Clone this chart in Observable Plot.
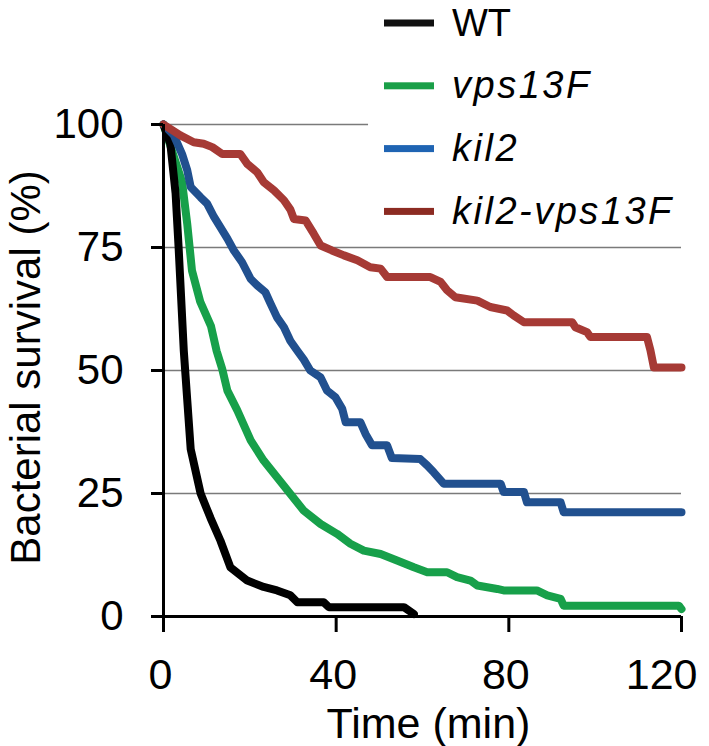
<!DOCTYPE html>
<html><head><meta charset="utf-8">
<script src="https://cdn.jsdelivr.net/npm/d3@7"></script>
<script src="https://cdn.jsdelivr.net/npm/@observablehq/plot@0.6"></script>
<style>html,body{margin:0;padding:0;background:#fff;} #chart{width:709px;height:746px;position:relative;}</style>
</head><body><div id="chart"></div>
<script>
// ---- data ----
const seriesNames = ["WT", "vps13F", "kil2", "kil2-vps13F"];
const seriesItalic = [false, true, true, true];
const lineColors = ["#000000", "#17a04a", "#21508f", "#a63a35"];
const legendColors = ["#111111", "#1a9f48", "#1f64b3", "#8c2b22"];

const wtTime = [0, 1.6, 2.8, 3.5, 4.7, 5.5, 6.3, 8.6, 10.9, 13.2, 15.5, 19.4, 23.2, 26.3, 29.4, 31, 37.1, 38.3, 55.7, 58];
const wtSurvival = [100, 96, 86, 75, 54, 44, 34, 25, 20, 15.4, 10, 7.3, 6, 5.3, 4.3, 2.9, 2.9, 1.9, 1.9, 0.5];

const vpsTime = [0, 4.3, 5.5, 6.6, 8.5, 11, 12.3, 13.6, 14.8, 17.1, 20.2, 23.2, 26.3, 29.4, 32.5, 36.4, 40.2, 43.3, 46.4, 50.3, 54.1, 58, 61.1, 65.7, 68, 71.1, 72.7, 77.3, 78.8, 86.5, 88.9, 92, 92.7, 119.4, 120];
const vpsSurvival = [100, 88.3, 79.8, 70.3, 64, 59, 54, 50.3, 45.9, 41.9, 35.8, 31.7, 28.3, 24.9, 21.5, 18.8, 16.8, 14.8, 13.4, 12.7, 11.4, 10, 9, 9, 8, 7.3, 6.3, 5.6, 5.3, 5.3, 4.3, 3.6, 2.2, 2.2, 1.5];

const kilTime = [0, 2.4, 4.3, 5.5, 6.3, 8.6, 10.1, 11.7, 13.2, 14.8, 16.3, 18.2, 20.2, 21.7, 23.6, 24.8, 26.3, 27.9, 29.4, 31, 32.5, 34, 36.4, 37.9, 39.8, 41.4, 42.2, 45.6, 46.8, 48.3, 51.8, 52.9, 59.5, 61.1, 62.6, 64.9, 78.1, 78.8, 83.5, 84.2, 92, 92.7, 120];
const kilSurvival = [100, 97.8, 94, 90.7, 87.3, 85.2, 83.9, 81.2, 79.1, 76.8, 74.4, 72, 68.6, 67.3, 65.9, 63.6, 60.8, 58.8, 56, 54, 52.2, 50, 48.6, 45.9, 44.6, 42.2, 39.5, 39.5, 37.1, 34.8, 34.8, 32.2, 32, 30.7, 29.3, 27, 27, 25.3, 25.3, 23.2, 23.2, 21.2, 21.2];

const dblTime = [0, 3.9, 7, 9.3, 11.3, 13.6, 17.8, 19.4, 21.7, 23.2, 25.6, 27.9, 29.4, 30.2, 32.9, 34.8, 36.4, 39, 41.8, 44.9, 47.9, 50.3, 51.8, 61.8, 64.2, 65.7, 67.6, 72.7, 75.7, 79.6, 81.1, 83.5, 94.7, 95.4, 98.1, 98.9, 112, 112.8, 113.6, 120];
const dblSurvival = [100, 97.8, 96.4, 96.1, 95.4, 94, 94, 92, 90.3, 88.3, 86.6, 84.6, 82.7, 80.8, 80.5, 77.8, 75.4, 74.4, 73.4, 72.4, 71, 70.7, 69, 69, 68, 66.3, 64.9, 64.2, 62.9, 62.2, 61.2, 59.8, 59.8, 58.8, 57.8, 56.8, 56.8, 54.1, 50.6, 50.6];

const xTicks = [0, 40, 80, 120];
const yTicks = [0, 25, 50, 75, 100];
const gridValues = [25, 50, 75];
const topGrid = 100;
const topGridEnd = 47.5; // minutes: top gridline stops short under the legend
const xLabel = "Time (min)";
const yLabel = "Bacterial survival (%)";

// ---- build table ----
const allTimes = [wtTime, vpsTime, kilTime, dblTime];
const allVals = [wtSurvival, vpsSurvival, kilSurvival, dblSurvival];
const rows = seriesNames.map((name, i) => allTimes[i].map((t, j) => ({series: name, t, s: allVals[i][j]})));
const drawOrder = [1, 0, 2, 3];

const font = "'Liberation Sans', Arial, Helvetica, sans-serif";

const chart = Plot.plot({
  width: 709, height: 746,
  marginLeft: 163, marginRight: 28, marginTop: 124, marginBottom: 130,
  x: {domain: [0, 120]},
  y: {domain: [0, 100]},
  style: {fontFamily: font, background: "white", overflow: "visible", color: "black"},
  marks: [
    Plot.ruleY(gridValues, {stroke: "#7a7a7a", strokeWidth: 1.6}),
    Plot.ruleY([topGrid], {x1: 0, x2: topGridEnd, stroke: "#7a7a7a", strokeWidth: 1.6}),
    ...drawOrder.map(i => Plot.line(rows[i], {
      x: "t", y: "s", stroke: lineColors[i], strokeWidth: 8,
      strokeLinejoin: "round", strokeLinecap: "round"
    })),
    Plot.ruleX([0], {y1: 0, y2: 100, stroke: "black", strokeWidth: 3}),
    Plot.ruleY([0], {x1: 0, x2: 120, stroke: "black", strokeWidth: 3}),
    Plot.axisY({ticks: yTicks, tickSize: 12, strokeWidth: 3, stroke: "black", tickFormat: () => "", label: null}),
    Plot.axisX({ticks: xTicks, tickSize: 16, strokeWidth: 3, stroke: "black", tickFormat: () => "", label: null}),
    Plot.text(yTicks, {y: d => d, text: d => String(d), frameAnchor: "left", textAnchor: "end", lineAnchor: "middle", dx: -40, fontSize: 42, fill: "black"}),
    Plot.text(xTicks.slice(0, -1), {x: d => d, text: d => String(d), frameAnchor: "bottom", textAnchor: "middle", lineAnchor: "bottom", dy: 72.6, dx: -3, fontSize: 43, fill: "black"}),
    Plot.text(xTicks.slice(-1), {x: d => d, text: d => String(d), frameAnchor: "bottom", lineAnchor: "bottom", textAnchor: "end", dy: 72.6, dx: 16, fontSize: 43, fill: "black"}),
    Plot.text([xLabel], {text: d => d, frameAnchor: "bottom", textAnchor: "middle", lineAnchor: "bottom", dy: 121, dx: 6, fontSize: 43, fill: "black"}),
    Plot.text([yLabel], {text: d => d, frameAnchor: "left", textAnchor: "middle", lineAnchor: "bottom", rotate: -90, dx: -124, dy: -3, fontSize: 42, fill: "black"})
  ]
});

document.getElementById("chart").appendChild(chart);

// ---- legend (drawn on top of the plot's svg) ----
const svg = d3.select(chart);
const lg = svg.append("g").attr("class", "legend");
seriesNames.forEach((name, i) => {
  const cy = 23 + i * 62.8;
  lg.append("rect").attr("x", 384).attr("y", cy - 3.5).attr("width", 50).attr("height", 7).attr("fill", legendColors[i]);
  lg.append("text").attr("x", 452).attr("y", cy + 12.5)
    .style("font-family", font).style("font-size", "38px")
    .style("text-anchor", "start")
    .style("font-style", seriesItalic[i] ? "italic" : "normal")
    .style("letter-spacing", seriesItalic[i] ? "2.5px" : "0px")
    .attr("fill", "black").text(name);
});
</script>
</body></html>
